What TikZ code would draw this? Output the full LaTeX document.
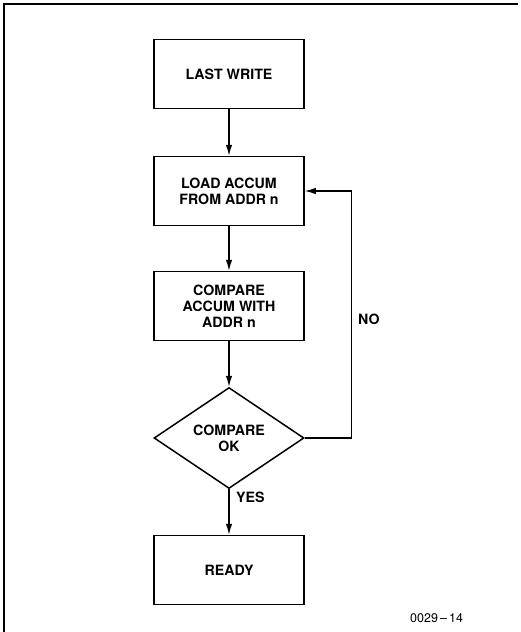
\documentclass[tikz,border=0pt]{standalone}
\usepackage{fontspec}
\setmainfont{TeX Gyre Heros}
\usetikzlibrary{shapes.geometric,arrows.meta}
\begin{document}
\begin{tikzpicture}[x=1pt,y=-1pt,
  box/.style={draw,line width=1.5pt,minimum width=150pt,minimum height=69pt,inner sep=0pt,align=center,
    font=\fontsize{14.2}{16}\selectfont\bfseries},
  decision/.style={draw,line width=1.5pt,diamond,minimum width=150pt,minimum height=101pt,inner sep=0pt,align=center,
    font=\fontsize{14.2}{16}\selectfont\bfseries},
  lbl/.style={font=\fontsize{14.2}{16}\selectfont\bfseries,inner sep=0pt},
  flow/.style={line width=1.3pt,-{Latex[length=11pt,width=6.5pt]}},
  frame/.style={line width=1.8pt}]
\useasboundingbox (0,0) rectangle (521,632);
\draw[frame] (4,632) -- (4,4) -- (518,4);
\node[box] (last) at (229,74) {LAST WRITE};
\node[box] (load) at (229,191) {LOAD ACCUM\\FROM ADDR n};
\node[box] (cmp) at (229,306) {COMPARE\\ACCUM WITH\\ADDR n};
\node[decision] (ok) at (229,438) {COMPARE\\OK};
\node[box] (ready) at (229,570) {READY};
\node[lbl,anchor=west] (no) at (358,319) {NO};
\node[lbl,anchor=west] (yes) at (236,497) {YES};
\node[font=\fontsize{12.5}{14}\selectfont,inner sep=0pt,anchor=west] (code) at (410,618) {0029\,–\,14};
\draw[flow] (last) -- (load);
\draw[flow] (load) -- (cmp);
\draw[flow] (cmp) -- (ok);
\draw[flow] (ok) -- (ready);
\draw[flow] (ok.east) -- ++(47,0) |- (load.east);
\end{tikzpicture}
\end{document}
